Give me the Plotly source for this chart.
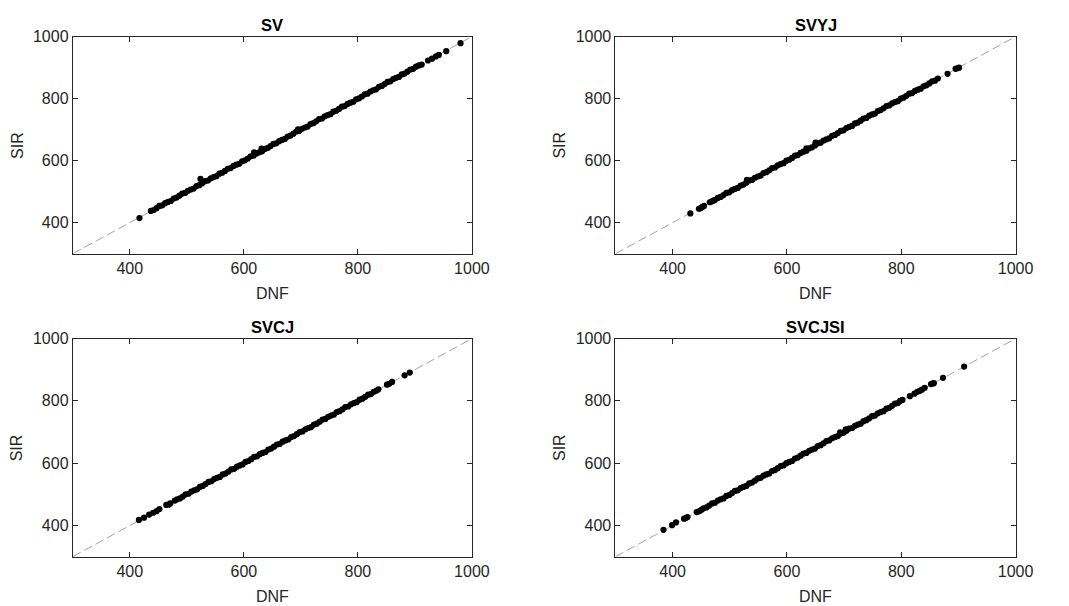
import plotly.graph_objects as go

# ---------------- data ----------------
titles = ["SV", "SVYJ", "SVCJ", "SVCJSI"]
tick_vals = [400, 600, 800, 1000]
diag = [300, 1000]

sv_dnf = [437, 442, 447, 452, 457, 462, 467, 472,
          477, 482, 487, 492, 497, 502, 507, 512,
          517, 522, 527, 532, 537, 542, 547, 552,
          557, 562, 567, 572, 577, 582, 587, 592,
          597, 602, 607, 612, 617, 622, 627, 632,
          637, 642, 647, 652, 657, 662, 667, 672,
          677, 682, 687, 692, 697, 702, 707, 712,
          717, 722, 727, 732, 737, 742, 747, 752,
          757, 762, 767, 772, 777, 782, 787, 792,
          797, 802, 807, 812, 817, 822, 827, 832,
          837, 842, 847, 852, 857, 862, 867, 872,
          877, 882, 887, 892, 897, 902, 907, 912,
          417, 524, 618, 631, 695, 923, 930, 937, 942, 955, 980]
sv_sir = [438, 441, 447, 454, 456, 463, 467, 470,
          478, 481, 487, 494, 496, 503, 507, 510,
          518, 521, 527, 534, 536, 543, 547, 550,
          558, 561, 567, 574, 576, 583, 587, 590,
          598, 601, 607, 614, 616, 623, 627, 630,
          638, 641, 647, 654, 656, 663, 667, 670,
          678, 681, 687, 694, 696, 703, 707, 710,
          718, 721, 727, 734, 736, 743, 747, 750,
          758, 761, 767, 774, 776, 783, 787, 790,
          798, 801, 807, 814, 816, 823, 827, 830,
          838, 841, 847, 854, 856, 863, 867, 870,
          878, 881, 887, 894, 896, 903, 907, 910,
          415, 541, 627, 639, 701, 923, 929, 936, 941, 953, 979]

svyj_dnf = [479, 484, 489, 494, 499, 504, 509, 514,
            519, 524, 529, 534, 539, 544, 549, 554,
            559, 564, 569, 574, 579, 584, 589, 594,
            599, 604, 609, 614, 619, 624, 629, 634,
            639, 644, 649, 654, 659, 664, 669, 674,
            679, 684, 689, 694, 699, 704, 709, 714,
            719, 724, 729, 734, 739, 744, 749, 754,
            759, 764, 769, 774, 779, 784, 789, 794,
            799, 804, 809, 814, 819, 824, 829, 834,
            839, 844, 849, 854, 859, 864,
            431, 446, 449, 452, 455, 465, 468, 471, 474, 530, 634, 650, 881, 895, 898, 901]
svyj_sir = [480, 483, 489, 496, 498, 505, 509, 512,
            520, 523, 529, 536, 538, 545, 549, 552,
            560, 563, 569, 576, 578, 585, 589, 592,
            600, 603, 609, 616, 618, 625, 629, 632,
            640, 643, 649, 656, 658, 665, 669, 672,
            680, 683, 689, 696, 698, 705, 709, 712,
            720, 723, 729, 736, 738, 745, 749, 752,
            760, 763, 769, 776, 778, 785, 789, 792,
            800, 803, 809, 816, 818, 825, 829, 832,
            840, 843, 849, 856, 858, 865,
            430, 445, 447, 451, 454, 466, 468, 471, 473, 538, 640, 658, 880, 896, 898, 900]

svcj_dnf = [483, 488, 493, 498, 503, 508, 513, 518,
            523, 528, 533, 538, 543, 548, 553, 558,
            563, 568, 573, 578, 583, 588, 593, 598,
            603, 608, 613, 618, 623, 628, 633, 638,
            643, 648, 653, 658, 663, 668, 673, 678,
            683, 688, 693, 698, 703, 708, 713, 718,
            723, 728, 733, 738, 743, 748, 753, 758,
            763, 768, 773, 778, 783, 788, 793, 798,
            803, 808, 813, 818, 823, 828, 833,
            416, 425, 434, 441, 447, 452, 464, 468, 471, 479, 836, 851, 855, 860, 882, 891]
svcj_sir = [484, 487, 493, 500, 502, 509, 513, 516,
            524, 527, 533, 540, 542, 549, 553, 556,
            564, 567, 573, 580, 582, 589, 593, 596,
            604, 607, 613, 620, 622, 629, 633, 636,
            644, 647, 653, 660, 662, 669, 673, 676,
            684, 687, 693, 700, 702, 709, 713, 716,
            724, 727, 733, 740, 742, 749, 753, 756,
            764, 767, 773, 780, 782, 789, 793, 796,
            804, 807, 813, 820, 822, 829, 833,
            418, 425, 435, 441, 446, 453, 466, 467, 471, 480, 837, 852, 855, 861, 882, 891]

svcjsi_dnf = [454, 459, 464, 469, 474, 479, 484, 489,
              494, 499, 504, 509, 514, 519, 524, 529,
              534, 539, 544, 549, 554, 559, 564, 569,
              574, 579, 584, 589, 594, 599, 604, 609,
              614, 619, 624, 629, 634, 639, 644, 649,
              654, 659, 664, 669, 674, 679, 684, 689,
              694, 699, 704, 709, 714, 719, 724, 729,
              734, 739, 744, 749, 754, 759, 764, 769,
              774, 779, 784, 789, 794,
              384, 399, 406, 420, 423, 426, 442, 445, 448, 451, 693, 703, 798, 802, 815, 823,
              828, 832, 836, 841, 852, 855, 857, 873, 910]
svcjsi_sir = [455, 458, 464, 471, 473, 480, 484, 487,
              495, 498, 504, 511, 513, 520, 524, 527,
              535, 538, 544, 551, 553, 560, 564, 567,
              575, 578, 584, 591, 593, 600, 604, 607,
              615, 618, 624, 631, 633, 640, 644, 647,
              655, 658, 664, 671, 673, 680, 684, 687,
              695, 698, 704, 711, 713, 720, 724, 727,
              735, 738, 744, 751, 753, 760, 764, 767,
              775, 778, 784, 791, 793,
              386, 401, 410, 422, 424, 427, 443, 445, 447, 451, 699, 709, 800, 803, 815, 823,
              829, 832, 836, 842, 854, 856, 857, 874, 910]

panels = [(sv_dnf, sv_sir), (svyj_dnf, svyj_sir), (svcj_dnf, svcj_sir), (svcjsi_dnf, svcjsi_sir)]

# ---------------- layout geometry (pixels) ----------------
W, H = 1069, 606
px_x = [(74, 480), (626, 1033), (74, 480), (626, 1033)]
px_y = [(29, 249), (29, 249), (335, 556), (335, 556)]

TXT = "#262626"
FONT = "Liberation Sans, Arial, Helvetica, sans-serif"

fig = go.Figure()
annotations = []
layout = dict(width=W, height=H, margin=dict(l=0, r=0, t=0, b=0),
              paper_bgcolor="white", plot_bgcolor="white", showlegend=False,
              font=dict(family=FONT, color=TXT, size=16))

for i, (dnf, sir) in enumerate(panels):
    k = "" if i == 0 else str(i + 1)
    xa, ya = "x" + k, "y" + k
    x0, x1 = px_x[i]
    y0, y1 = px_y[i]
    dx = [x0 / W, x1 / W]
    dy = [1 - y1 / H, 1 - y0 / H]
    axis_common = dict(range=[300, 1000], tickvals=tick_vals, ticks="inside", ticklen=5,
                       tickcolor=TXT, tickwidth=1, showline=True, linecolor=TXT, linewidth=1,
                       mirror="ticks", showgrid=False, zeroline=False,
                       tickfont=dict(family=FONT, size=16, color=TXT))
    layout["xaxis" + k] = dict(domain=dx, anchor=ya, **axis_common)
    layout["yaxis" + k] = dict(domain=dy, anchor=xa, **axis_common)

    fig.add_trace(go.Scatter(x=diag, y=diag, mode="lines", xaxis=xa, yaxis=ya,
                             line=dict(color="#8c8c8c", width=0.8, dash="9px,4px"),
                             hoverinfo="skip"))
    fig.add_trace(go.Scatter(x=dnf, y=sir, mode="markers", xaxis=xa, yaxis=ya,
                             marker=dict(color="black", size=6.2, line=dict(width=0))))

    cx = (x0 + x1) / 2 / W
    annotations.append(dict(text="<b>%s</b>" % titles[i], x=cx, y=1 - (y0 - 12) / H,
                            xref="paper", yref="paper", showarrow=False,
                            xanchor="center", yanchor="middle",
                            font=dict(family=FONT, size=16.5, color="black")))
    annotations.append(dict(text="DNF", x=cx, y=1 - (y1 + 40) / H, xref="paper", yref="paper",
                            showarrow=False, xanchor="center", yanchor="middle",
                            font=dict(family=FONT, size=16, color=TXT)))
    annotations.append(dict(text="SIR", x=(x0 - 57) / W, y=1 - (y0 + y1) / 2 / H,
                            xref="paper", yref="paper", showarrow=False, textangle=-90,
                            xanchor="center", yanchor="middle",
                            font=dict(family=FONT, size=16, color=TXT)))

layout["annotations"] = annotations
fig.update_layout(**layout)
fig.write_html("out.html")
